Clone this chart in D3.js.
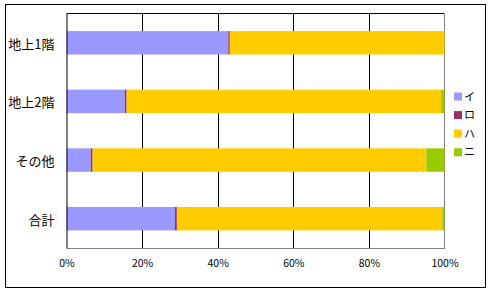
<!DOCTYPE html>
<html><head><meta charset="utf-8">
<script src="https://cdn.jsdelivr.net/npm/d3@7"></script>
<style>body{margin:0;background:#fff}svg{display:block}</style>
</head><body>
<svg id="c" width="492" height="295"></svg>
<script>
const categories = ["地上1階", "地上2階", "その他", "合計"];
const seriesNames = ["イ", "ロ", "ハ", "ニ"];
const seriesI  = [42.8, 15.4, 6.4, 28.7];
const seriesRo = [0.4, 0.5, 0.5, 0.5];
const seriesHa = [56.8, 83.2, 88.3, 70.2];
const seriesNi = [0.0, 0.9, 4.8, 0.6];
const xTicks = [0, 20, 40, 60, 80, 100];
const colors = ["#9999FF", "#993366", "#FFCC00", "#99CC00"];

const rows = categories.map((c, i) => {
  const vals = [seriesI[i], seriesRo[i], seriesHa[i], seriesNi[i]];
  const tot = d3.sum(vals);
  const o = {cat: c};
  seriesNames.forEach((s, k) => o[s] = vals[k] / tot * 100);
  return o;
});
const stacked = d3.stack().keys(seriesNames)(rows);

const svg = d3.select("#c");
const font = "'Noto Sans CJK JP', sans-serif";
svg.append("rect").attr("x", 5.5).attr("y", 4.5).attr("width", 480).attr("height", 283)
  .attr("fill", "#fff").attr("stroke", "#000");

const L = 66.5, R = 444.5, T = 13.5, B = 248;
const x = d3.scaleLinear().domain([0, 100]).range([L, R]);
const y = d3.scaleBand().domain(categories).range([T, B]).paddingInner(0.6).paddingOuter(0.3);

// gridlines
svg.append("g").selectAll("line").data(xTicks.filter(t => t > 0 && t < 100)).join("line")
  .attr("x1", d => Math.round(x(d)) + 0.5).attr("x2", d => Math.round(x(d)) + 0.5)
  .attr("y1", T).attr("y2", B).attr("stroke", "#000");
svg.append("line").attr("x1", L).attr("x2", R).attr("y1", T).attr("y2", T).attr("stroke", "#000");
svg.append("line").attr("x1", R).attr("x2", R).attr("y1", T).attr("y2", B).attr("stroke", "#808080");

// bars
svg.append("g").selectAll("g").data(stacked).join("g")
  .attr("fill", (d, i) => colors[i])
  .selectAll("rect").data(d => d).join("rect")
  .attr("x", d => x(d[0])).attr("width", d => x(d[1]) - x(d[0]))
  .attr("y", d => y(d.data.cat)).attr("height", y.bandwidth());

// axes
const xAxis = svg.append("g").attr("transform", `translate(0,${B})`)
  .call(d3.axisBottom(x).tickValues(xTicks).tickFormat(d => d + "%").tickSize(0).tickPadding(12));
xAxis.select(".domain").attr("stroke", "#808080");
xAxis.selectAll("text").attr("font-family", font).attr("font-size", 10.5).attr("fill", "#000");

const yAxis = svg.append("g").attr("transform", `translate(${L},0)`)
  .call(d3.axisLeft(y).tickSize(0).tickPadding(12));
yAxis.select(".domain").attr("stroke", "#000");
yAxis.selectAll("text").attr("font-family", font).attr("font-size", 13).attr("fill", "#000")
  .attr("dy", "0.45em");

// legend
const lg = svg.append("g").selectAll("g").data(seriesNames).join("g")
  .attr("transform", (d, i) => `translate(454,${92.5 + i * 18.6})`);
lg.append("rect").attr("width", 8).attr("height", 8).attr("fill", (d, i) => colors[i]);
lg.append("text").attr("x", 10).attr("y", 4).attr("dy", "0.38em")
  .attr("font-family", font).attr("font-size", 11).text(d => d);
</script>
</body></html>
